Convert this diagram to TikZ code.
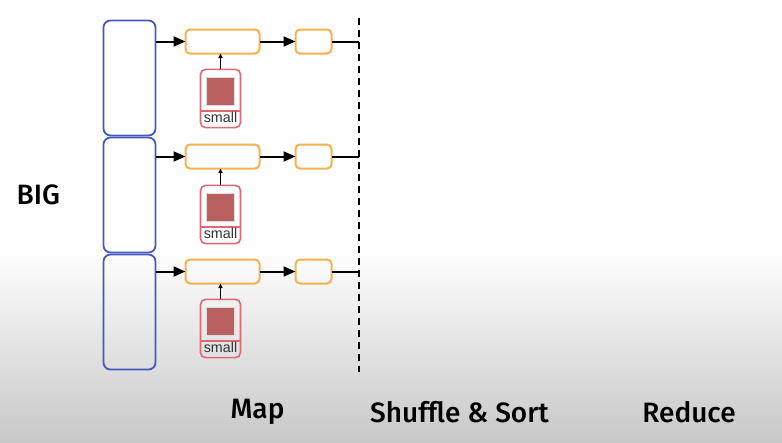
\documentclass[tikz,border=0pt]{standalone}
\usepackage{fontspec}
\setmainfont{Liberation Sans}
\newfontfamily\phasefont{Fira Sans Medium}
\usetikzlibrary{shapes,arrows.meta,positioning}
\definecolor{bigblue}{HTML}{4558BE}
\definecolor{maporange}{HTML}{F6B24F}
\definecolor{smallred}{HTML}{DB6A72}
\definecolor{thumbred}{HTML}{BA6060}
\definecolor{thumbedge}{HTML}{E4DADA}
\definecolor{floorgrey}{HTML}{C8C8C8}
\definecolor{smallink}{HTML}{333333}
\tikzstyle{bigblock} = [rectangle, draw=bigblue, line width=1.8pt, rounded corners=7pt, minimum width=52pt, minimum height=115pt, inner sep=0pt, outer sep=0pt]
\tikzstyle{mapblock} = [rectangle, draw=maporange, line width=2pt, rounded corners=4.5pt, minimum width=74pt, minimum height=24pt, inner sep=0pt, outer sep=0pt]
\tikzstyle{outblock} = [rectangle, draw=maporange, line width=2pt, rounded corners=4.5pt, minimum width=36pt, minimum height=24pt, inner sep=0pt, outer sep=0pt]
\tikzstyle{smallblock} = [rectangle split, rectangle split parts=2, draw=smallred, line width=1.6pt, rounded corners=5pt, minimum width=40pt, inner xsep=0pt, inner ysep=0pt, outer sep=0pt, text=smallink, font=\fontsize{14.3}{16}\selectfont]
\tikzstyle{thumb} = [rectangle, fill=thumbred, draw=thumbedge, line width=1pt, minimum size=28pt, inner sep=0pt]
\tikzstyle{phase} = [font=\phasefont\fontsize{28}{30}\selectfont]
\tikzstyle{link} = [line width=2pt, -{Triangle[length=12pt,width=10pt]}]
\tikzstyle{feed} = [line width=1pt, -{Triangle[length=4.5pt,width=4pt]}]
\tikzstyle{tail} = [line width=2pt]
\begin{document}
\begin{tikzpicture}[x=1pt,y=-1pt,node distance=29pt]
    \useasboundingbox (0,0) rectangle (782,442);
    % background
    \fill[white] (0,0) rectangle (782,250);
    \shade[top color=white, bottom color=floorgrey] (0,250) rectangle (782,442);

    \node [bigblock] (bigone) at (129.5,78) {};
    \node [bigblock, below=2pt of bigone] (bigtwo) {};
    \node [bigblock, below=2pt of bigtwo] (bigthree) {};

    \node [mapblock] (mapone) at (222.5,41.5) {};
    \node [mapblock] (maptwo) at (222.5,156.5) {};
    \node [mapblock] (mapthree) at (222.5,271.5) {};
    \node [outblock, right=36pt of mapone] (outone) {};
    \node [outblock, right=36pt of maptwo] (outtwo) {};
    \node [outblock, right=36pt of mapthree] (outthree) {};

    \node [smallblock] (smallone) at (220.5,98.5) {\rule{0pt}{40pt}\nodepart{two}\rule[-4.5pt]{0pt}{15pt}small};
    \node [smallblock] (smalltwo) at (220.5,214.5) {\rule{0pt}{40pt}\nodepart{two}\rule[-4.5pt]{0pt}{15pt}small};
    \node [smallblock] (smallthree) at (220.5,328.5) {\rule{0pt}{40pt}\nodepart{two}\rule[-4.5pt]{0pt}{15pt}small};
    \node [thumb, above=5pt of smallone.text split] (thumbone) {};
    \node [thumb, above=5pt of smalltwo.text split] (thumbtwo) {};
    \node [thumb, above=5pt of smallthree.text split] (thumbthree) {};

    \coordinate (dashtop) at (359,18);
    \coordinate (dashend) at (359,372);
    \coordinate (joinone) at (dashtop |- outone.east);
    \coordinate (jointwo) at (dashtop |- outtwo.east);
    \coordinate (jointhree) at (dashtop |- outthree.east);

    \draw[line width=2pt, dash pattern=on 7pt off 5pt] (dashtop) -- (dashend);

    \draw[link] (bigone.east |- mapone.west) -- (mapone);
    \draw[link] (bigtwo.east |- maptwo.west) -- (maptwo);
    \draw[link] (bigthree.east |- mapthree.west) -- (mapthree);
    \draw[link] (mapone) -- (outone);
    \draw[link] (maptwo) -- (outtwo);
    \draw[link] (mapthree) -- (outthree);
    \draw[tail] (outone) -- (joinone);
    \draw[tail] (outtwo) -- (jointwo);
    \draw[tail] (outthree) -- (jointhree);
    \draw[feed] (smallone) -- (mapone.south -| smallone.north);
    \draw[feed] (smalltwo) -- (maptwo.south -| smalltwo.north);
    \draw[feed] (smallthree) -- (mapthree.south -| smallthree.north);

    \node [phase, left=40pt of bigtwo] (big) {BIG};
    \node [phase] (map) at (257.5,412) {Map};
    \node [phase] (shuffle) at (459.5,412) {Shuffle \& Sort};
    \node [phase] (reduce) at (689,412) {Reduce};
\end{tikzpicture}
\end{document}
